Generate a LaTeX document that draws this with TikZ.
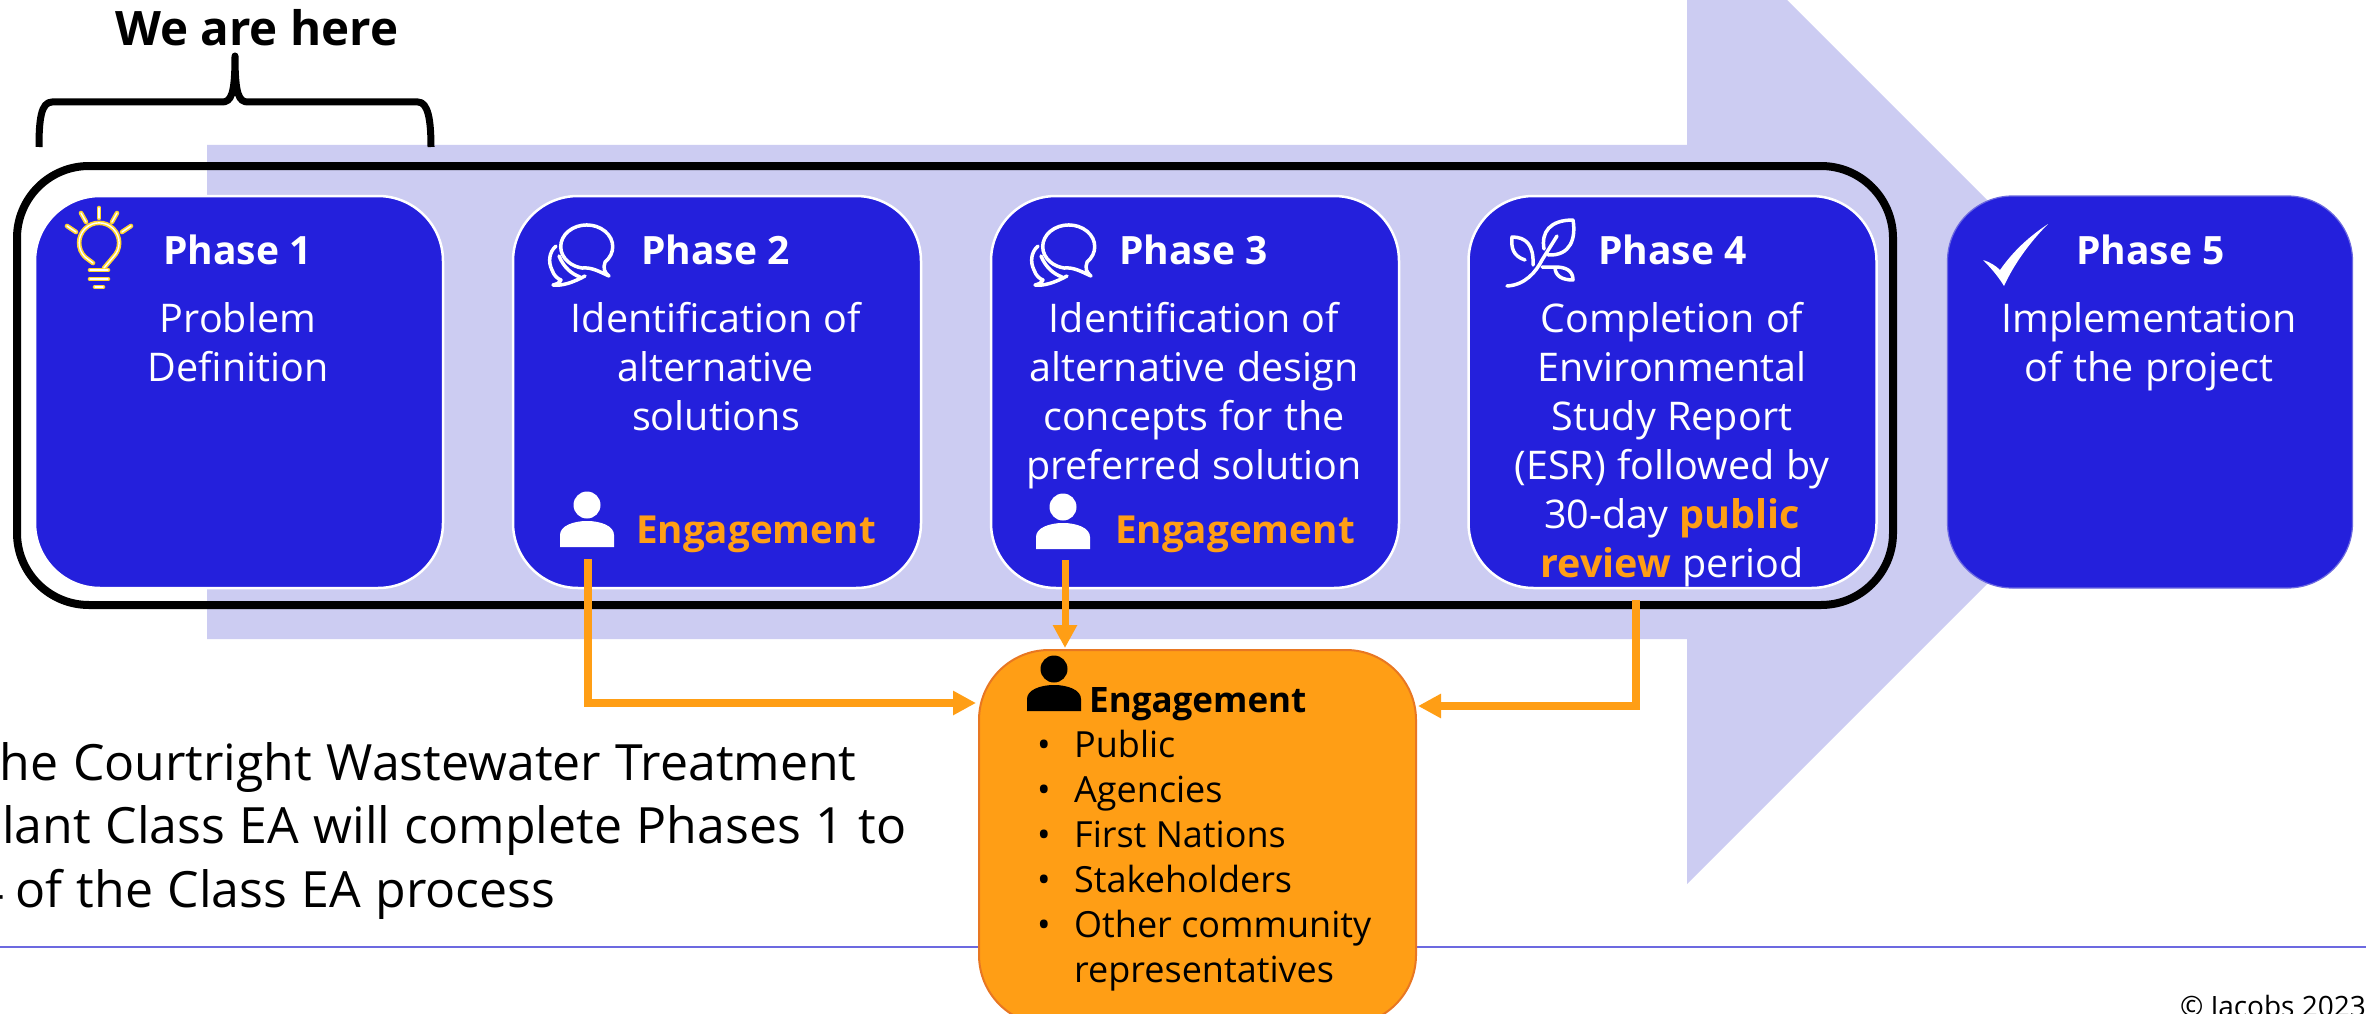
\documentclass[tikz,border=0pt]{standalone}
\usepackage{fontspec}
\setmainfont{Open Sans}
\newfontfamily\bodyfam[WordSpace=1.45]{Open Sans}
\newfontfamily\capfam[WordSpace=1.11]{Open Sans}
\usetikzlibrary{arrows.meta}
\definecolor{arrowbg}{HTML}{CCCCF2}
\definecolor{phaseblue}{HTML}{2420DC}
\definecolor{engorange}{HTML}{FF9E15}
\definecolor{engedge}{HTML}{E87722}
\definecolor{rulecol}{HTML}{6C69E0}
\definecolor{bulbyellow}{HTML}{FFD530}
\tikzset{
  phasebox/.style={draw=white,line width=2.5pt,fill=phaseblue,rounded corners=65pt,minimum width=408pt,minimum height=392pt,inner sep=0pt},
  phasetitle/.style={anchor=base west,inner sep=0pt,text=white,font=\fontsize{39}{48}\selectfont\bfseries},
  bodytext/.style={anchor=north,inner sep=0pt,align=center,text=white,font=\bodyfam\fontsize{39.5}{49}\selectfont},
  engtext/.style={anchor=base west,inner sep=0pt,text=engorange,font=\fontsize{38.6}{48}\selectfont\bfseries},
  conn/.style={draw=engorange,line width=8pt,-{Triangle[length=23pt,width=23pt]}},
  iconline/.style={draw=white,line width=3.5pt,line cap=round,line join=round},
  bubbles/.pic={
    \draw[iconline] (605.1,262) arc[start angle=45,end angle=-260,x radius=26,y radius=21.7]
      .. controls (592,267) and (600,272) .. (609,276) .. controls (604,272) and (603,268) .. (605.1,262) -- cycle;
    \draw[iconline] (556,246) .. controls (549,252) and (548,262) .. (552,270)
      .. controls (554,276) and (558,279) .. (561,280) .. controls (559,283) and (556,285) .. (553,285)
      .. controls (562,286) and (572,283) .. (585,276);
    \draw[iconline] (559,256) .. controls (564,268) and (572,274) .. (580,277);
  },
  person/.pic={
    \fill (0,0) circle[radius=13.5];
    \fill (-27,42) -- (-27,30) .. controls (-27,21) and (-14,16) .. (0,16) .. controls (14,16) and (27,21) .. (27,30) -- (27,42) -- cycle;
  }
}
\newcommand{\bulbpaths}[1]{%
  \draw[#1] (93,263) -- (85,257) arc[start angle=135,end angle=405,radius=20] -- (104,268);
  \draw[#1] (90,270) -- (108,270);
  \draw[#1] (90,279) -- (108,279);
  \draw[#1] (95,287) -- (103,287);
  \draw[#1] (99,208) -- (99,218);
  \draw[#1] (81,213) -- (86,222);
  \draw[#1] (117,213) -- (112,222);
  \draw[#1] (67,226) -- (76,232);
  \draw[#1] (131,226) -- (122,232);
}
\begin{document}
\begin{tikzpicture}[x=1pt,y=-1pt]
\useasboundingbox (0,0) rectangle (2366,1014);
\clip (0,0) rectangle (2366,1014);
% rule and big arrow
\fill[white] (0,0) rectangle (2366,1014);
\draw[rulecol,line width=2pt] (0,947) -- (2366,947);
\fill[arrowbg] (207,145) -- (1687,145) -- (1687,-100) -- (2179,392) -- (1687,884) -- (1687,639) -- (207,639) -- cycle;
% frame
\node[draw=black,line width=8pt,rounded corners=72pt,minimum width=1876pt,minimum height=439pt,inner sep=0pt] (frame) at (955,385.5) {};
% brace
\draw[line width=7pt,line join=round] (39,147) .. controls (39,120) and (41,102) .. (52,102) -- (222,102)
  .. controls (231,102) and (235,95) .. (235,56) .. controls (235,95) and (239,102) .. (248,102) -- (418,102)
  .. controls (428,102) and (431,120) .. (431,147);
\node[anchor=base west,inner sep=0pt,font=\fontsize{47.5}{60}\selectfont\bfseries] (here) at (115,46) {We are here};
% phase boxes
\node[phasebox] (p1) at (239,392) {};
\node[phasebox] (p2) at (717,392) {};
\node[phasebox] (p3) at (1195,392) {};
\node[phasebox] (p4) at (1672.5,392) {};
\node[phasebox,draw=rulecol,line width=1.2pt,minimum width=405pt] (p5) at (2150,392) {};
% phase titles
\node[phasetitle] (t1) at (163,264) {Phase 1};
\node[phasetitle] (t2) at (641,264) {Phase 2};
\node[phasetitle] (t3) at (1119,264) {Phase 3};
\node[phasetitle] (t4) at (1598,264) {Phase 4};
\node[phasetitle] (t5) at (2076,264) {Phase 5};
% bodies
\node[bodytext] (b1) at (238,300) {\rule{0pt}{32pt}Problem\\Definition};
\node[bodytext] (b2) at (716,300) {\rule{0pt}{32pt}Identification of\\alternative\\solutions};
\node[bodytext] (b3) at (1194,300) {\rule{0pt}{32pt}Identification of\\alternative design\\concepts for the\\preferred solution};
\node[bodytext] (b4) at (1672,300) {\rule{0pt}{32pt}Completion of\\Environmental\\Study Report\\(ESR) followed by\\30-day \textcolor{engorange}{\bfseries public}\\\textcolor{engorange}{\bfseries review} period};
\node[bodytext] (b5) at (2149,300) {\rule{0pt}{32pt}Implementation\\of the project};
% engagement labels
\node[engtext] (e2t) at (636,543) {Engagement};
\node[engtext] (e3t) at (1115,543) {Engagement};
% icons
\bulbpaths{draw=bulbyellow,line width=4.6pt,line cap=round,line join=round}
\bulbpaths{draw=white,line width=1.4pt,line cap=round,line join=round}
\pic at (0,0) {bubbles};
\pic at (482,0) {bubbles};
\draw[iconline] (1507,286) .. controls (1525,285) and (1536,272) .. (1542,260) -- (1557,236);
\draw[iconline] (1544,249) .. controls (1541,232) and (1550,220) .. (1573,220) .. controls (1576,238) and (1571,256) .. (1548,255);
\draw[iconline] (1525,260) .. controls (1513,256) and (1511,248) .. (1512,237) .. controls (1526,237) and (1534,245) .. (1533,265);
\draw[iconline] (1542,267) -- (1555,267) .. controls (1565,267) and (1573,270) .. (1573,280) .. controls (1562,280) and (1555,276) .. (1555,267);
\fill[white] (1983,260) .. controls (1990,262) and (1996,266) .. (2000,270) .. controls (2014,250) and (2030,236) .. (2048,224) .. controls (2030,242) and (2014,264) .. (2004,286) .. controls (1998,276) and (1990,267) .. (1983,260) -- cycle;
\pic[white] at (587,505) {person};
\pic[white] at (1063,507) {person};
% engagement box
\node[draw=engedge,line width=2pt,fill=engorange,rounded corners=70pt,minimum width=437pt,minimum height=375pt,inner sep=0pt] (eng) at (1197.5,837.5) {};
\pic[black] at (1054,669) {person};
\node[anchor=base west,inner sep=0pt,font=\fontsize{35}{45}\selectfont\bfseries] (engt) at (1089,712) {Engagement};
\node[anchor=north west,inner sep=0pt,align=left,font=\fontsize{36}{45}\selectfont] (englist) at (1037,727) {\rule{0pt}{30pt}\makebox[37pt][l]{•}Public\\\makebox[37pt][l]{•}Agencies\\\makebox[37pt][l]{•}First Nations\\\makebox[37pt][l]{•}Stakeholders\\\makebox[37pt][l]{•}Other community\\\makebox[37pt][l]{}representatives};
% connectors
\coordinate (s2) at (587.5,559);
\coordinate (s3) at (1065,560);
\coordinate (s4) at (1636,600);
\coordinate (in2) at (976,703);
\coordinate (in3) at (1065,648);
\coordinate (in4) at (1418,706);
\draw[conn] (s2) |- (in2);
\draw[conn,line width=7pt] (s3) -- (in3);
\draw[conn] (s4) |- (in4);
% caption
\node[anchor=north west,inner sep=0pt,align=left,font=\capfam\fontsize{50}{63.5}\selectfont] (cap) at (-28,738) {\rule{0pt}{42pt}The Courtright Wastewater Treatment\\Plant Class EA will complete Phases 1 to\\\kern3pt 4\kern-3pt{} of the Class EA process};
\node[anchor=base west,inner sep=0pt,font=\fontsize{28}{34}\selectfont] (copy) at (2180,1016) {© Jacobs 2023};
\end{tikzpicture}
\end{document}
